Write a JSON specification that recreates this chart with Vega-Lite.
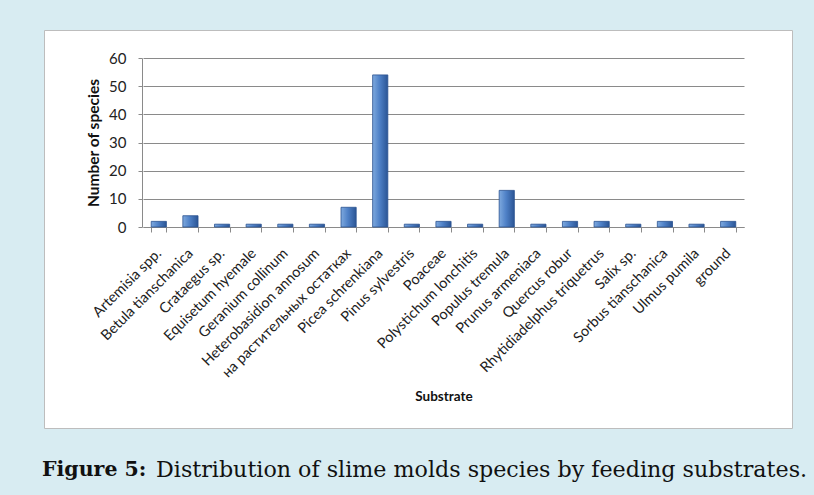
{
  "$schema": "https://vega.github.io/schema/vega-lite/v6.json",
  "width": 748,
  "height": 398,
  "autosize": "none",
  "padding": {"left": 44, "top": 30, "right": 22, "bottom": 67},
  "background": "#d8ecf2",
  "title": {
    "text": "Distribution of slime molds species by feeding substrates.",
    "subtitle": "Figure 5:",
    "orient": "bottom",
    "anchor": "start",
    "frame": "group",
    "dx": -2,
    "offset": 31,
    "font": "DejaVu Serif",
    "fontSize": 22.2,
    "fontWeight": "normal",
    "color": "#111111",
    "subtitleFont": "DejaVu Serif",
    "subtitleFontSize": 20.5,
    "subtitleFontWeight": "bold",
    "subtitleColor": "#111111",
    "subtitlePadding": -20.8,
    "encoding": {"dx": {"value": 112}}
  },
  "data": {
    "values": [
      {"substrate": "Artemisia spp.", "species": 2},
      {"substrate": "Betula tianschanica", "species": 4},
      {"substrate": "Crataegus sp.", "species": 1},
      {"substrate": "Equisetum hyemale", "species": 1},
      {"substrate": "Geranium collinum", "species": 1},
      {"substrate": "Heterobasidion annosum", "species": 1},
      {"substrate": "на растительных остатках", "species": 7},
      {"substrate": "Picea schrenkiana", "species": 54},
      {"substrate": "Pinus sylvestris", "species": 1},
      {"substrate": "Poaceae", "species": 2},
      {"substrate": "Polystichum lonchitis", "species": 1},
      {"substrate": "Populus tremula", "species": 13},
      {"substrate": "Prunus armeniaca", "species": 1},
      {"substrate": "Quercus robur", "species": 2},
      {"substrate": "Rhytidiadelphus triquetrus", "species": 2},
      {"substrate": "Salix sp.", "species": 1},
      {"substrate": "Sorbus tianschanica", "species": 2},
      {"substrate": "Ulmus pumila", "species": 1},
      {"substrate": "ground", "species": 2}
    ]
  },
  "mark": {
    "type": "bar",
    "color": {
      "gradient": "linear",
      "x1": 0, "y1": 0, "x2": 1, "y2": 0,
      "stops": [
        {"offset": 0, "color": "#7ea9de"},
        {"offset": 0.45, "color": "#4f81c7"},
        {"offset": 1, "color": "#2b5595"}
      ]
    },
    "stroke": "#2a5290",
    "strokeWidth": 0.8
  },
  "encoding": {
    "x": {
      "field": "substrate",
      "type": "nominal",
      "sort": null,
      "scale": {"range": [99, 700], "paddingInner": 0.52, "paddingOuter": 0.26},
      "axis": {
        "title": "Substrate",
        "offset": -201,
        "tickBand": "extent",
        "tickSize": 5,
        "tickColor": "#8a8a8a",
        "domainColor": "#8a8a8a",
        "labelAngle": -45,
        "labelAlign": "right",
        "labelBaseline": "middle",
        "labelPadding": 19,
        "labelFont": "Lato",
        "labelFontSize": 14.5,
        "labelColor": "#222222",
        "labelLimit": 300,
        "titleFont": "Lato",
        "titleFontSize": 13.5,
        "titleFontWeight": "bold",
        "titleColor": "#111111",
        "titlePadding": 10
      }
    },
    "y": {
      "field": "species",
      "type": "quantitative",
      "scale": {"domain": [0, 60], "range": [197, 28], "nice": false},
      "axis": {
        "title": "Number of species",
        "values": [0, 10, 20, 30, 40, 50, 60],
        "offset": -98,
        "grid": true,
        "gridColor": "#8a8a8a",
        "domainColor": "#8a8a8a",
        "tickColor": "#8a8a8a",
        "tickSize": 4,
        "labelFont": "Lato",
        "labelFontSize": 15,
        "labelColor": "#222222",
        "labelPadding": 12,
        "titleFont": "Lato",
        "titleFontSize": 15.5,
        "titleFontWeight": "bold",
        "titleColor": "#111111",
        "titlePadding": 7
      }
    },
    "y2": {"datum": 0}
  },
  "config": {
    "view": {"fill": "white", "stroke": "#bdbdbd"}
  }
}
